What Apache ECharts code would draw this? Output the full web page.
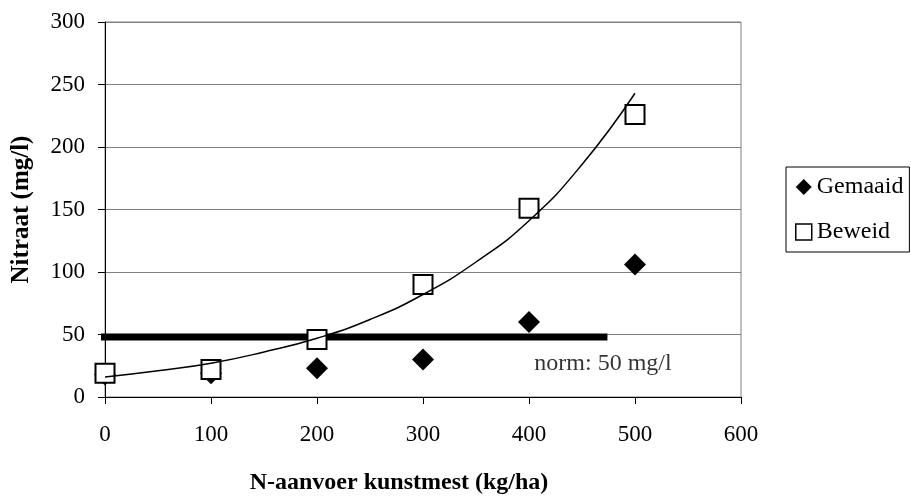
<!DOCTYPE html>
<html>
<head>
<meta charset="utf-8">
<script src="https://cdn.jsdelivr.net/npm/echarts@6/dist/echarts.min.js"></script>
<style>html,body{margin:0;padding:0;background:#fff;}#c{width:911px;height:496px;}</style>
</head>
<body>
<div id="c"></div>
<script>
var xValues = [0, 100, 200, 300, 400, 500];
var gemaaid = [18, 19, 23, 30, 60, 106];
var beweid = [19, 22, 46, 90, 151, 226];
var trendX = [0, 50, 100, 150, 200, 250, 300, 350, 400, 450, 500];
var trendY = [16, 21, 27, 36, 47, 62, 82, 108, 141, 186, 243];
var normX = [-6, 474];
var normY = [48, 48];
var normLabel = 'norm: 50 mg/l';
var normLabelPos = [405, 27];
var xTicks = [0, 100, 200, 300, 400, 500, 600];
var yTicks = [0, 50, 100, 150, 200, 250, 300];

function pairs(xs, ys) { return xs.map(function (x, i) { return [x, ys[i]]; }); }

var font = 'Liberation Serif, Times New Roman, serif';
var chart = echarts.init(document.getElementById('c'));
chart.setOption({
  animation: false,
  backgroundColor: '#fff',
  textStyle: { fontFamily: font, color: '#000' },
  grid: { left: 105, right: 170, top: 22, bottom: 99, outerBoundsMode: 'none', containLabel: false, show: true, borderColor: '#808080', borderWidth: 1, backgroundColor: 'transparent' },
  legend: {
    orient: 'vertical', left: 786, top: 167,
    padding: [8, 6, 8, 9], itemGap: 21,
    borderColor: '#000', borderWidth: 1,
    itemWidth: 16, itemHeight: 16, itemTextGap: 6,
    textStyle: { fontFamily: font, fontSize: 24, color: '#000' },
    data: [
      { name: 'Gemaaid', icon: 'diamond' },
      { name: 'Beweid', icon: 'rect', itemStyle: { color: '#fff', borderColor: '#000', borderWidth: 1.5 } }
    ]
  },
  xAxis: {
    type: 'value', min: 0, max: 600, interval: 100,
    name: 'N-aanvoer kunstmest (kg/ha)', nameLocation: 'middle', nameGap: 74,
    nameTextStyle: { fontFamily: font, fontSize: 24, fontWeight: 'bold', color: '#000', padding: [0, 48, 0, 0] },
    axisLine: { show: true, lineStyle: { color: '#000', width: 1 } },
    axisTick: { show: true, inside: false, length: 7, lineStyle: { color: '#000' } },
    axisLabel: { fontFamily: font, fontSize: 23, color: '#000', margin: 26 },
    splitLine: { show: false }
  },
  yAxis: {
    type: 'value', min: 0, max: 300, interval: 50,
    name: 'Nitraat (mg/l)', nameLocation: 'middle', nameGap: 71, nameRotate: 90,
    nameTextStyle: { fontFamily: font, fontSize: 25, fontWeight: 'bold', color: '#000' },
    axisLine: { show: true, lineStyle: { color: '#000', width: 1 } },
    axisTick: { show: true, inside: false, length: 7, lineStyle: { color: '#000' } },
    axisLabel: { fontFamily: font, fontSize: 23, color: '#000', margin: 20 },
    splitLine: { show: true, lineStyle: { color: '#808080', width: 1 } }
  },
  series: [
    {
      name: 'norm', type: 'line', data: pairs(normX, normY), clip: false,
      symbol: 'none', lineStyle: { color: '#000', width: 7 }, z: 2, silent: true
    },
    {
      name: 'normText', type: 'scatter', data: [normLabelPos], symbolSize: 0,
      label: { show: true, position: 'right', distance: 0, formatter: normLabel, fontFamily: font, fontSize: 24, color: '#000' },
      z: 2, silent: true
    },
    {
      name: 'Gemaaid', type: 'scatter', data: pairs(xValues, gemaaid),
      symbol: 'diamond', symbolSize: [22, 22],
      itemStyle: { color: '#000', opacity: 1 }, z: 3
    },
    {
      name: 'Beweid', type: 'scatter', data: pairs(xValues, beweid),
      symbol: 'rect', symbolSize: 19,
      itemStyle: { color: '#fff', borderColor: '#000', borderWidth: 2, opacity: 1 }, z: 4
    },
    {
      name: 'trend', type: 'line', data: pairs(trendX, trendY), smooth: true,
      symbol: 'none', lineStyle: { color: '#000', width: 1.5 }, z: 5, silent: true
    }
  ]
});
</script>
</body>
</html>
